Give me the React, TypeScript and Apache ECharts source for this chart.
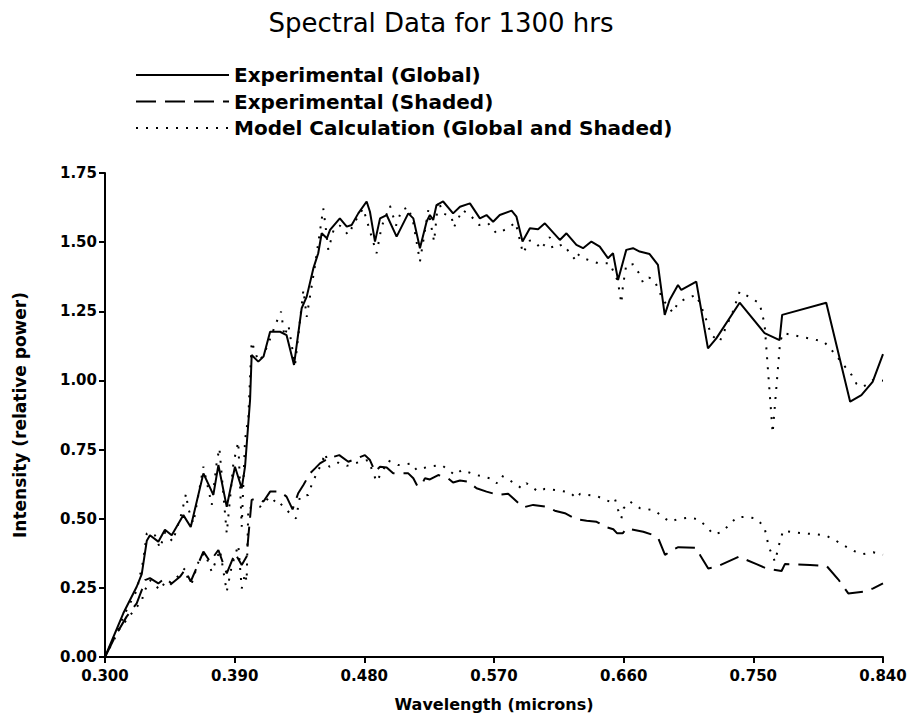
import React, { useEffect, useRef } from "react";
import * as echarts from "echarts";

const titleText = "Spectral Data for 1300 hrs";
const xTicks = [0.3, 0.39, 0.48, 0.57, 0.66, 0.75, 0.84];

const globalWl = [0.300, 0.3127, 0.322, 0.3255, 0.329, 0.3312, 0.337, 0.3416, 0.3463, 0.3544, 0.3595, 0.3683, 0.3752, 0.3787, 0.3845, 0.3902, 0.3949, 0.3972, 0.4007, 0.4018, 0.4064, 0.41, 0.4146, 0.4215, 0.426, 0.4312, 0.4365, 0.44, 0.4446, 0.448, 0.4504, 0.454, 0.4562, 0.463, 0.4678, 0.4712, 0.4758, 0.4816, 0.4839, 0.4874, 0.4909, 0.4955, 0.5024, 0.5105, 0.514, 0.5186, 0.5232, 0.5255, 0.5278, 0.5301, 0.5347, 0.5416, 0.5464, 0.5533, 0.5602, 0.5648, 0.5694, 0.574, 0.5822, 0.5856, 0.5898, 0.5949, 0.6006, 0.6053, 0.6157, 0.6203, 0.6272, 0.6318, 0.6376, 0.6434, 0.6491, 0.6526, 0.6561, 0.6618, 0.6665, 0.6711, 0.678, 0.6838, 0.6885, 0.6919, 0.6977, 0.7, 0.7104, 0.7185, 0.7243, 0.7405, 0.7578, 0.7682, 0.77, 0.8006, 0.8172, 0.825, 0.8328, 0.84];
const globalInt = [0.0, 0.158, 0.254, 0.30, 0.42, 0.44, 0.417, 0.46, 0.44, 0.513, 0.47, 0.664, 0.586, 0.694, 0.543, 0.688, 0.61, 0.688, 0.93, 1.092, 1.068, 1.086, 1.176, 1.176, 1.164, 1.056, 1.261, 1.303, 1.405, 1.46, 1.532, 1.514, 1.544, 1.586, 1.556, 1.562, 1.604, 1.647, 1.61, 1.502, 1.586, 1.598, 1.52, 1.604, 1.586, 1.478, 1.574, 1.598, 1.58, 1.634, 1.647, 1.604, 1.628, 1.64, 1.586, 1.598, 1.574, 1.598, 1.614, 1.592, 1.502, 1.55, 1.547, 1.568, 1.508, 1.532, 1.49, 1.478, 1.502, 1.484, 1.442, 1.46, 1.363, 1.472, 1.478, 1.466, 1.457, 1.418, 1.237, 1.291, 1.345, 1.327, 1.357, 1.116, 1.152, 1.281, 1.171, 1.146, 1.237, 1.281, 0.923, 0.947, 0.995, 1.095];

const shadedWl = [0.300, 0.3081, 0.315, 0.322, 0.3255, 0.3278, 0.3312, 0.337, 0.3416, 0.3463, 0.352, 0.3555, 0.3595, 0.3683, 0.3729, 0.3787, 0.3845, 0.3902, 0.3949, 0.3983, 0.3995, 0.4018, 0.4053, 0.41, 0.4146, 0.4215, 0.426, 0.4302, 0.4341, 0.4377, 0.4423, 0.4458, 0.4492, 0.455, 0.4626, 0.4689, 0.4747, 0.4804, 0.4839, 0.4874, 0.4909, 0.4955, 0.5, 0.5059, 0.5105, 0.514, 0.5168, 0.5198, 0.522, 0.5255, 0.5313, 0.5382, 0.5416, 0.5464, 0.5521, 0.5579, 0.5648, 0.5729, 0.5798, 0.5833, 0.5903, 0.5972, 0.6065, 0.6122, 0.6192, 0.6273, 0.6343, 0.6412, 0.6482, 0.6528, 0.6555, 0.6593, 0.662, 0.6736, 0.6806, 0.684, 0.6887, 0.6944, 0.6979, 0.7106, 0.7134, 0.7187, 0.7245, 0.7402, 0.7453, 0.7522, 0.7592, 0.7696, 0.7719, 0.7893, 0.8009, 0.8089, 0.8159, 0.8263, 0.8332, 0.84];
const shadedInt = [0.0, 0.085, 0.146, 0.194, 0.242, 0.278, 0.285, 0.266, 0.285, 0.266, 0.29, 0.315, 0.273, 0.381, 0.345, 0.387, 0.302, 0.375, 0.333, 0.363, 0.435, 0.568, 0.574, 0.562, 0.598, 0.598, 0.58, 0.534, 0.592, 0.622, 0.664, 0.682, 0.70, 0.718, 0.73, 0.706, 0.718, 0.73, 0.712, 0.67, 0.688, 0.685, 0.664, 0.664, 0.664, 0.646, 0.618, 0.622, 0.646, 0.642, 0.658, 0.646, 0.631, 0.638, 0.634, 0.61, 0.598, 0.586, 0.59, 0.574, 0.541, 0.55, 0.543, 0.529, 0.52, 0.498, 0.493, 0.489, 0.469, 0.462, 0.447, 0.447, 0.465, 0.453, 0.441, 0.429, 0.369, 0.389, 0.397, 0.395, 0.365, 0.32, 0.326, 0.363, 0.351, 0.336, 0.32, 0.311, 0.336, 0.333, 0.329, 0.281, 0.23, 0.236, 0.248, 0.266];

const modelGlobalWl = [0.300, 0.315, 0.322, 0.3266, 0.329, 0.3312, 0.3347, 0.3382, 0.3416, 0.347, 0.3532, 0.3562, 0.3578, 0.3613, 0.3683, 0.3741, 0.3776, 0.3794, 0.3845, 0.3891, 0.3925, 0.3949, 0.3972, 0.3995, 0.4018, 0.4064, 0.41, 0.4146, 0.4187, 0.4222, 0.4245, 0.4273, 0.4319, 0.4377, 0.44, 0.4458, 0.4515, 0.4527, 0.455, 0.459, 0.463, 0.4689, 0.473, 0.4792, 0.4885, 0.492, 0.4978, 0.502, 0.5059, 0.5105, 0.514, 0.5186, 0.5244, 0.5284, 0.5313, 0.5347, 0.5405, 0.5421, 0.5481, 0.553, 0.5597, 0.5659, 0.5717, 0.5786, 0.585, 0.5901, 0.5949, 0.5995, 0.6025, 0.6087, 0.6106, 0.6179, 0.626, 0.6272, 0.6318, 0.6422, 0.6503, 0.6561, 0.6572, 0.6584, 0.6595, 0.6618, 0.6665, 0.6706, 0.6734, 0.6776, 0.6815, 0.6873, 0.6942, 0.6977, 0.7035, 0.7104, 0.7162, 0.7208, 0.7266, 0.7358, 0.7405, 0.7474, 0.7543, 0.7578, 0.7634, 0.7686, 0.7707, 0.7777, 0.7846, 0.7915, 0.799, 0.8043, 0.8136, 0.8182, 0.8217, 0.8263, 0.8332, 0.84];
const modelGlobalInt = [0.0, 0.17, 0.24, 0.35, 0.447, 0.45, 0.44, 0.393, 0.45, 0.417, 0.52, 0.59, 0.537, 0.483, 0.688, 0.55, 0.706, 0.755, 0.447, 0.70, 0.778, 0.471, 0.785, 0.869, 1.14, 1.07, 1.09, 1.15, 1.207, 1.249, 1.16, 1.2, 1.056, 1.327, 1.23, 1.417, 1.622, 1.574, 1.472, 1.55, 1.56, 1.526, 1.57, 1.622, 1.46, 1.556, 1.631, 1.56, 1.616, 1.626, 1.57, 1.43, 1.616, 1.502, 1.65, 1.604, 1.592, 1.553, 1.616, 1.6, 1.562, 1.568, 1.532, 1.547, 1.571, 1.46, 1.506, 1.496, 1.474, 1.518, 1.478, 1.492, 1.439, 1.46, 1.442, 1.424, 1.424, 1.357, 1.315, 1.279, 1.342, 1.417, 1.42, 1.388, 1.354, 1.372, 1.36, 1.291, 1.245, 1.281, 1.297, 1.309, 1.237, 1.164, 1.14, 1.249, 1.321, 1.301, 1.279, 1.204, 0.81, 1.14, 1.171, 1.164, 1.156, 1.149, 1.14, 1.11, 1.05, 1.02, 0.987, 0.977, 1.002, 0.999];

const modelShadedWl = [0.300, 0.3104, 0.3231, 0.3255, 0.3266, 0.3312, 0.3382, 0.3416, 0.3451, 0.3555, 0.3578, 0.3602, 0.366, 0.3694, 0.3741, 0.3798, 0.3845, 0.3879, 0.3925, 0.3949, 0.3972, 0.3983, 0.3995, 0.4018, 0.4076, 0.4146, 0.4203, 0.4215, 0.4296, 0.4326, 0.4353, 0.4411, 0.4434, 0.4469, 0.4504, 0.4527, 0.4557, 0.4619, 0.4678, 0.477, 0.4827, 0.4885, 0.4966, 0.5035, 0.5128, 0.5163, 0.5244, 0.5337, 0.5429, 0.5476, 0.5579, 0.5672, 0.5718, 0.5753, 0.5811, 0.5892, 0.5926, 0.6007, 0.6053, 0.6146, 0.6227, 0.6273, 0.6297, 0.6412, 0.6503, 0.6538, 0.6561, 0.6584, 0.66, 0.6644, 0.6713, 0.677, 0.6817, 0.6875, 0.6921, 0.6979, 0.7048, 0.7118, 0.7176, 0.7222, 0.7273, 0.7326, 0.7384, 0.7449, 0.7518, 0.7576, 0.7608, 0.765, 0.7685, 0.7707, 0.7777, 0.785, 0.7927, 0.8003, 0.8066, 0.8135, 0.8198, 0.8263, 0.8332, 0.84];
const modelShadedInt = [0.0, 0.104, 0.188, 0.196, 0.23, 0.278, 0.242, 0.27, 0.26, 0.321, 0.278, 0.266, 0.363, 0.375, 0.308, 0.387, 0.236, 0.327, 0.405, 0.248, 0.302, 0.273, 0.543, 0.538, 0.543, 0.58, 0.55, 0.556, 0.513, 0.501, 0.58, 0.586, 0.622, 0.664, 0.70, 0.737, 0.688, 0.703, 0.691, 0.706, 0.712, 0.634, 0.71, 0.694, 0.70, 0.676, 0.688, 0.694, 0.658, 0.676, 0.658, 0.646, 0.628, 0.655, 0.638, 0.61, 0.628, 0.598, 0.608, 0.602, 0.595, 0.574, 0.59, 0.582, 0.562, 0.574, 0.532, 0.501, 0.538, 0.562, 0.538, 0.534, 0.529, 0.505, 0.489, 0.499, 0.504, 0.498, 0.471, 0.444, 0.45, 0.474, 0.505, 0.507, 0.501, 0.471, 0.397, 0.345, 0.419, 0.457, 0.451, 0.447, 0.444, 0.439, 0.423, 0.401, 0.383, 0.372, 0.379, 0.37];

const zip = (xs: number[], ys: number[]) => xs.map((x, i) => [x, ys[i]]);

const FONT = "DejaVu Sans";

export default function App() {
  const ref = useRef<HTMLDivElement>(null);
  useEffect(() => {
    if (!ref.current) return;
    const chart = echarts.init(ref.current, undefined, { renderer: "svg" });
    const modelName = "Model Calculation (Global and Shaded)";
    chart.setOption({
      animation: false,
      backgroundColor: "#ffffff",
      title: {
        text: titleText,
        left: 436,
        top: 5,
        textAlign: "center",
        textStyle: { fontFamily: FONT, fontSize: 26, fontWeight: "normal", color: "#000" },
      },
      legend: {
        left: 135,
        top: 65,
        orient: "vertical",
        itemWidth: 93,
        itemHeight: 20,
        itemGap: 6.5,
        padding: 0,
        itemStyle: { opacity: 0 },
        textStyle: { fontFamily: FONT, fontSize: 20, fontWeight: "bold", color: "#000" },
        data: ["Experimental (Global)", "Experimental (Shaded)", modelName],
      },
      grid: { left: 105, right: 30, top: 173, bottom: 64, containLabel: false },
      xAxis: {
        type: "value",
        min: 0.3,
        max: 0.84,
        interval: 0.09,
        name: "Wavelength (microns)",
        nameLocation: "middle",
        nameGap: 39,
        nameTextStyle: { fontFamily: FONT, fontSize: 16, fontWeight: "bold", color: "#000" },
        axisLine: { lineStyle: { color: "#000", width: 2 } },
        axisTick: { show: true, length: 6, lineStyle: { color: "#000", width: 2 } },
        axisLabel: {
          margin: 11,
          fontFamily: FONT,
          fontSize: 15,
          fontWeight: "bold",
          color: "#000",
          formatter: (v: number) => v.toFixed(3),
        },
        splitLine: { show: false },
      },
      yAxis: {
        type: "value",
        min: 0,
        max: 1.75,
        interval: 0.25,
        name: "Intensity (relative power)",
        nameLocation: "middle",
        nameGap: 77,
        nameTextStyle: { fontFamily: FONT, fontSize: 17, fontWeight: "bold", color: "#000" },
        axisLine: { show: true, lineStyle: { color: "#000", width: 2 } },
        axisTick: { show: true, length: 6, lineStyle: { color: "#000", width: 2 } },
        axisLabel: {
          margin: 8,
          fontFamily: FONT,
          fontSize: 15,
          fontWeight: "bold",
          color: "#000",
          formatter: (v: number) => v.toFixed(2),
        },
        splitLine: { show: false },
      },
      series: [
        {
          name: "Experimental (Global)",
          type: "line",
          symbol: "none",
          data: zip(globalWl, globalInt),
          lineStyle: { color: "#000", width: 2, type: "solid" },
          itemStyle: { color: "#000" },
        },
        {
          name: "Experimental (Shaded)",
          type: "line",
          symbol: "none",
          data: zip(shadedWl, shadedInt),
          lineStyle: { color: "#000", width: 2, type: [20, 9] },
          itemStyle: { color: "#000" },
        },
        {
          name: modelName,
          type: "line",
          symbol: "none",
          data: zip(modelGlobalWl, modelGlobalInt),
          lineStyle: { color: "#000", width: 2, type: [2, 8] },
          itemStyle: { color: "#000" },
        },
        {
          name: modelName,
          type: "line",
          symbol: "none",
          data: zip(modelShadedWl, modelShadedInt),
          lineStyle: { color: "#000", width: 2, type: [2, 8] },
          itemStyle: { color: "#000" },
        },
      ],
    });
    return () => chart.dispose();
  }, []);
  return (
    <div
      ref={ref}
      style={{ position: "fixed", left: 0, top: 0, width: 913, height: 721, background: "#fff" }}
    />
  );
}
